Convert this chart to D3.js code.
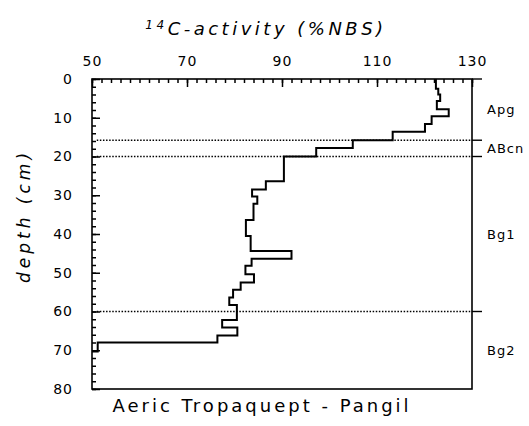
<!DOCTYPE html>
<head>
  <meta charset="utf-8">
  <script src="https://d3js.org/d3.v7.min.js"></script>
  <style>
    body { margin:0; background:#fff; }
    text { font-family: "DejaVu Sans", sans-serif; fill:#000; }
  </style>
</head>
<body>
<script>

// layer tops (cm) and 14C activity (%NBS)
var layerTop = [0, 2.5, 4, 5.7, 7.8, 9.6, 11.6, 13.6, 15.8, 17.8, 20, 26.4, 28.5, 30.3, 32.2,
                36.4, 40.5, 44.4, 46.4, 48.2, 50.4, 52.5, 54.4, 56.4, 58.3, 62.2, 64.1, 66.2, 68];
var layerBottom = [2.5, 4, 5.7, 7.8, 9.6, 11.6, 13.6, 15.8, 17.8, 20, 26.4, 28.5, 30.3, 32.2, 36.4,
                40.5, 44.4, 46.4, 48.2, 50.4, 52.5, 54.4, 56.4, 58.3, 62.2, 64.1, 66.2, 68, 70.3];
var activity = [122.4, 122.9, 123.3, 122.6, 125.1, 121.5, 120.1, 113.3, 104.9, 97.2, 90.4, 86.6, 83.7, 84.8, 84.0,
                82.4, 83.4, 92.0, 83.6, 82.3, 84.1, 81.3, 79.7, 78.9, 80.5, 77.4, 80.6, 76.4, 51.2];

// soil horizons
var horizonNames = ["Apg", "ABcn", "Bg1", "Bg2"];
var horizonTop = [0, 15.8, 20, 60];
var horizonBottom = [15.8, 20, 60, 80];

var xTicks = [50, 70, 90, 110, 130];
var yTicks = [0, 10, 20, 30, 40, 50, 60, 70, 80];

var W = 529, H = 426;
var svg = d3.select("body").append("svg")
    .attr("width", W)
    .attr("height", H);

var x = d3.scaleLinear().domain([50, 130]).range([92, 472]);
var y = d3.scaleLinear().domain([0, 80]).range([79, 389]);

// minor ticks
svg.append("g")
    .attr("transform", "translate(0," + y(0) + ")")
    .call(d3.axisTop(x).tickValues(d3.range(50, 131, 2)).tickSize(-4).tickFormat(""))
    .call(function(g){ g.select(".domain").remove(); });
svg.append("g")
    .attr("transform", "translate(" + x(50) + ",0)")
    .call(d3.axisLeft(y).tickValues(d3.range(0, 81, 2)).tickSize(-4).tickFormat(""))
    .call(function(g){ g.select(".domain").remove(); });

// major ticks + labels
var xa = svg.append("g")
    .attr("transform", "translate(0," + y(0) + ")")
    .call(d3.axisTop(x).tickValues(xTicks).tickSize(-8).tickPadding(13).tickFormat(d3.format("d")));
var ya = svg.append("g")
    .attr("transform", "translate(" + x(50) + ",0)")
    .call(d3.axisLeft(y).tickValues(yTicks).tickSize(-8).tickPadding(19));
[xa, ya].forEach(function(g){
  g.select(".domain").remove();
  g.selectAll("text").attr("font-size", 14).attr("font-family", "DejaVu Sans").attr("letter-spacing", 1);
});
svg.selectAll(".tick line").attr("stroke", "#000").attr("stroke-width", 1.5);

// frame
svg.append("rect")
    .attr("x", x(50)).attr("y", y(0))
    .attr("width", x(130) - x(50)).attr("height", y(80) - y(0))
    .attr("fill", "none").attr("stroke", "#000").attr("stroke-width", 1.6);

// horizon boundaries
svg.selectAll(".hline")
  .data(horizonTop.slice(1))
  .enter().append("line")
    .attr("x1", x(51)).attr("x2", x(130))
    .attr("y1", function(d){ return y(d); }).attr("y2", function(d){ return y(d); })
    .attr("stroke", "#000").attr("stroke-width", 1.4)
    .attr("stroke-dasharray", "1.5,1.6");
svg.selectAll(".rtick")
  .data(horizonTop)
  .enter().append("line")
    .attr("x1", x(130)).attr("x2", x(130) + 10)
    .attr("y1", function(d){ return y(d); }).attr("y2", function(d){ return y(d); })
    .attr("stroke", "#000").attr("stroke-width", 1.4);
svg.selectAll(".hname")
  .data(horizonNames)
  .enter().append("text")
    .attr("x", x(130) + 15)
    .attr("y", function(d, i){ return y((horizonTop[i] + horizonBottom[i]) / 2); })
    .attr("dy", "0.35em")
    .attr("font-size", 13)
    .attr("letter-spacing", 1)
    .text(function(d){ return d; });

// step profile
var pts = [];
activity.forEach(function(v, i){
  pts.push([v, layerTop[i]]);
  pts.push([v, layerBottom[i]]);
});
pts.push([50, layerBottom[layerBottom.length - 1]]);

var line = d3.line()
    .x(function(d){ return x(d[0]); })
    .y(function(d){ return y(d[1]); });

svg.append("path")
    .datum(pts)
    .attr("fill", "none")
    .attr("stroke", "#000")
    .attr("stroke-width", 2)
    .attr("d", line);

// titles
var title = svg.append("text")
    .attr("x", 266).attr("y", 35)
    .attr("text-anchor", "middle")
    .attr("font-size", 18)
    .attr("font-style", "italic")
    .attr("letter-spacing", 3.5);
title.append("tspan").attr("font-size", 12).attr("dy", -6).text("14");
title.append("tspan").attr("dy", 6).text("C-activity (%NBS)");

svg.append("text")
    .attr("transform", "translate(30,216) rotate(-90)")
    .attr("text-anchor", "middle")
    .attr("font-size", 17)
    .attr("font-style", "italic")
    .attr("letter-spacing", 4)
    .text("depth (cm)");

svg.append("text")
    .attr("x", 262).attr("y", 412)
    .attr("text-anchor", "middle")
    .attr("font-size", 18)
    .attr("letter-spacing", 3)
    .text("Aeric Tropaquept - Pangil");

</script>
</body>
